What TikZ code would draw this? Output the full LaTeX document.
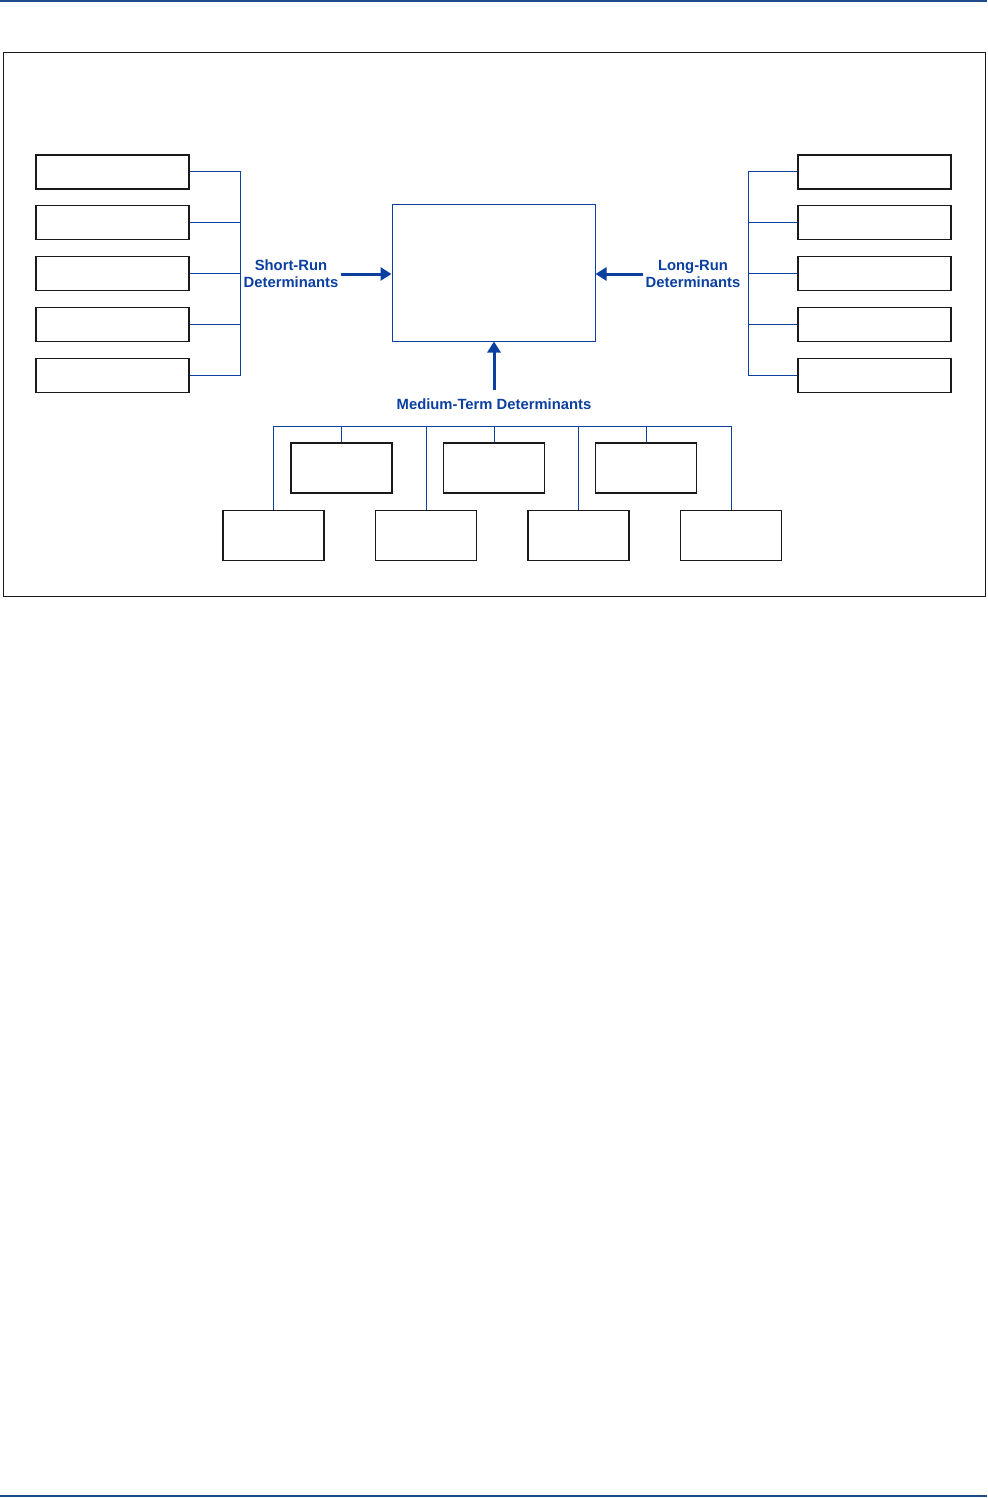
\documentclass[tikz,border=0pt]{standalone}
\usepackage{fontspec}
\setmainfont{Liberation Sans}
\usetikzlibrary{calc,positioning,arrows.meta}
\definecolor{ink}{HTML}{1A1A1A}
\definecolor{wireblue}{HTML}{0B3FA0}
\definecolor{rulebar}{HTML}{1F4A8C}
\newcommand{\Tag}{\fontsize{7.4}{8.6}\selectfont\bfseries}

\begin{document}
\begin{tikzpicture}[x=0.5pt,y=-0.5pt,
    slot/.style={draw=ink,line width=0.7pt,minimum width=76.5pt,minimum height=17pt,inner sep=0pt},
    block/.style={draw=ink,line width=0.7pt,minimum width=50.5pt,minimum height=25pt,inner sep=0pt},
    hub/.style={draw=wireblue,line width=0.5pt,minimum width=101.5pt,minimum height=68pt,inner sep=0pt},
    dlabel/.style={text=wireblue,font=\Tag,align=center,inner sep=1pt},
    wire/.style={draw=wireblue,line width=0.5pt},
    pointer/.style={draw=wireblue,line width=1.5pt,-{Triangle[length=5.5pt,width=6.5pt]}}]
  \useasboundingbox (0,0) rectangle (987,1498);
  \draw[rulebar,line width=1pt] (0,1) -- (987,1);
  \draw[rulebar,line width=1pt] (0,1496) -- (987,1496);
  \draw[ink,line width=0.5pt] (3,53) rectangle (985,596);
  % centre
  \node[hub] (core) at (493.5,273) {};
  % short run / long run columns
  \foreach \i in {1,...,5}{
    \node[slot] (sr\i) at (112.5,{172+50.8*(\i-1)}) {};
    \node[slot] (lr\i) at (874.5,{172+50.8*(\i-1)}) {};}
  \coordinate (srx) at (240,0);
  \coordinate (lrx) at (748,0);
  \foreach \i in {2,3,4}{
    \draw[wire] (sr\i.east) -- (sr\i.east -| srx);
    \draw[wire] (lr\i.west) -- (lr\i.west -| lrx);}
  \draw[wire] (sr1.east) -- (sr1.east -| srx) -- (sr5.east -| srx) -- (sr5.east);
  \draw[wire] (lr1.west) -- (lr1.west -| lrx) -- (lr5.west -| lrx) -- (lr5.west);
  \node[dlabel] (srlab) at (291,274) {Short-Run\\Determinants};
  \node[dlabel] (lrlab) at (693,274) {Long-Run\\Determinants};
  \draw[pointer] (srlab.east) -- (srlab.east -| core.west);
  \draw[pointer] (lrlab.west) -- (lrlab.west -| core.east);
  % medium term
  \node[dlabel] (mtlab) at (494,404) {Medium-Term Determinants};
  \draw[pointer] ([yshift=3pt]mtlab.north) -- (mtlab.north |- core.south);
  \coordinate (bus) at (0,426);
  \foreach \x [count=\i] in {341.5,494,646}{
    \node[block] (mt\i) at (\x,468) {};
    \draw[wire] (mt\i.north) -- (mt\i.north |- bus);}
  \foreach \x [count=\i] in {273.5,426,578.5,731}{
    \node[block] (mb\i) at (\x,535.5) {};}
  \foreach \i in {2,3}{\draw[wire] (mb\i.north) -- (mb\i.north |- bus);}
  \draw[wire] (mb1.north) -- (mb1.north |- bus) -- (mb4.north |- bus) -- (mb4.north);
\end{tikzpicture}
\end{document}
